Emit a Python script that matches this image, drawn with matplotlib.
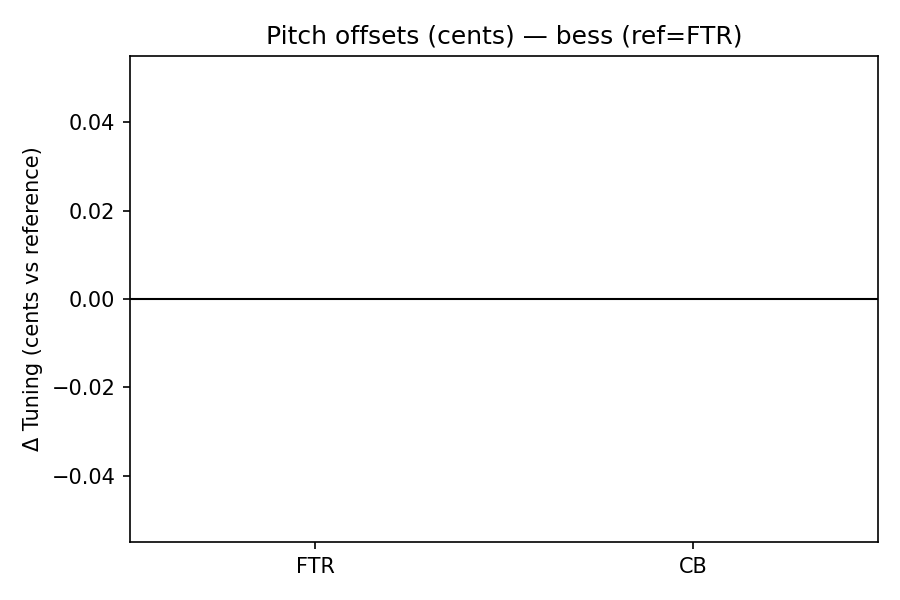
import matplotlib
matplotlib.use("Agg")
import matplotlib.pyplot as plt
import numpy as np

# offsets relative to the reference tuning (FTR)
labels = ["FTR", "CB"]
offsets = [0.0, 0.0]

x = np.arange(len(labels))

fig, ax = plt.subplots(figsize=(6, 4), dpi=150)
ax.bar(x, offsets, width=0.8, color="C0")
ax.axhline(0, color="black", linewidth=1)
ax.set_xticks(x)
ax.set_xticklabels(labels)
ax.set_ylabel("Δ Tuning (cents vs reference)")
ax.set_title("Pitch offsets (cents) — bess (ref=FTR)")
fig.subplots_adjust(left=0.1444, right=0.9756, top=0.9067, bottom=0.0967)
fig.savefig("out.png")
